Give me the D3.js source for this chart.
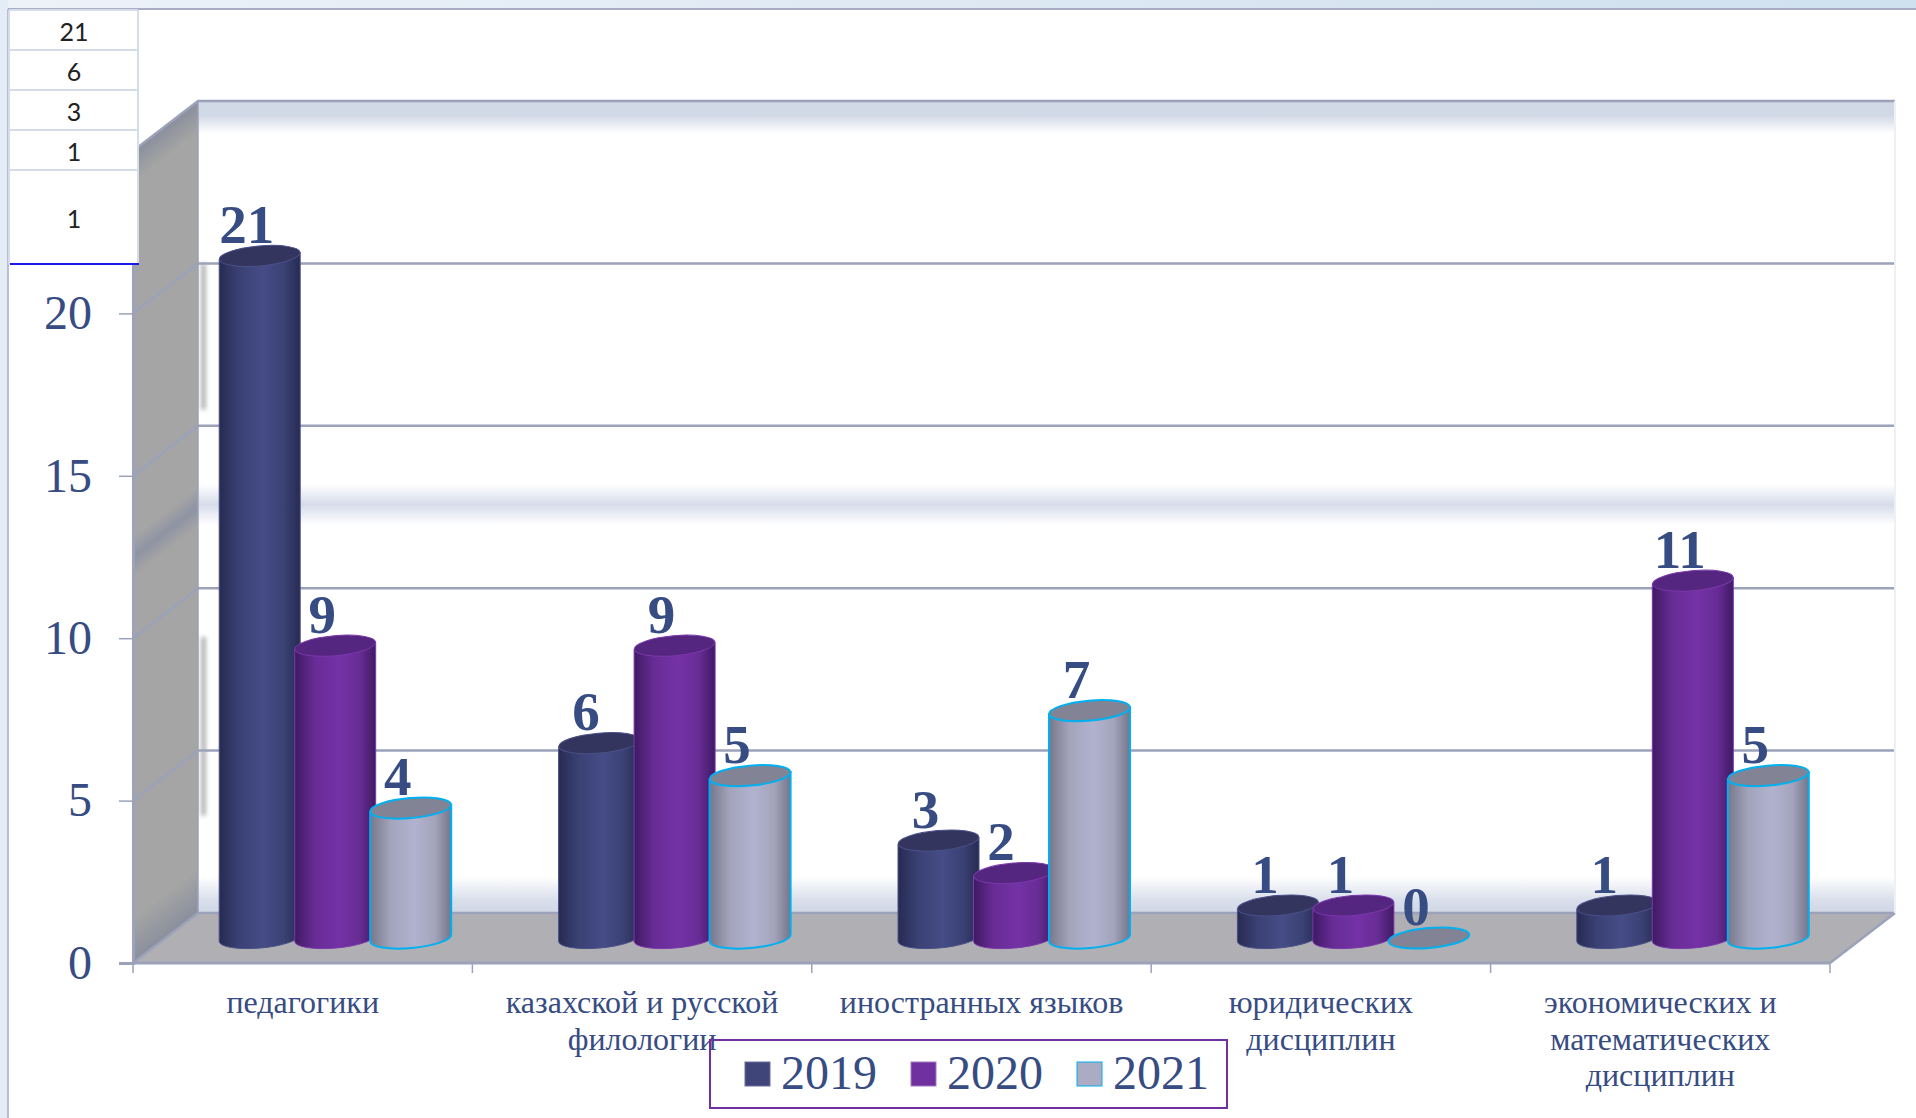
<!DOCTYPE html>
<html>
<head>
<meta charset="utf-8">
<script src="https://d3js.org/d3.v7.min.js"></script>
<style>
  html, body { margin: 0; padding: 0; background: #fff; overflow: hidden; }
  svg { display: block; }
  text { font-family: "Liberation Serif", serif; fill: #364c82; }
</style>
</head>
<body>
<div id="chart"></div>
<script>
const categories = [
  ['педагогики'],
  ['казахской и русской', 'филологии'],
  ['иностранных языков'],
  ['юридических', 'дисциплин'],
  ['экономических и', 'математических', 'дисциплин']
]
const years = ['2019', '2020', '2021']
const values2019 = [21, 6, 3, 1, 1]
const values2020 = [9, 9, 2, 1, 11]
const values2021 = [4, 5, 7, 0, 5]
const yTicks = [0, 5, 10, 15, 20, 25]
const tableValues = [21, 6, 3, 1, 1]

const width = 1916
const height = 1118
const depthX = 65
const depthY = 50
const barW = 81
const capRy = 10
const tilt = 3.5

const x = d3.scaleBand().domain(d3.range(categories.length)).range([133, 1830])
const xYear = d3.scalePoint().domain(years).range([-75.5, 75.5])
const y = d3.scaleLinear().domain([0, 25]).range([963, 151])

const seriesValues = [values2019, values2020, values2021]
const look = [
  { id: 'navy', stops: ['#272b52', '#3a4174', '#464c86', '#3a4174', '#272b52'], cap: '#33355f', line: '#4b5088', lineW: 1 },
  { id: 'purple', stops: ['#3f1a63', '#682c96', '#7432a6', '#682c96', '#3f1a63'], cap: '#55267f', line: '#7a38aa', lineW: 1 },
  { id: 'grey', stops: ['#76778a', '#a3a4bb', '#b1b2cf', '#a3a4bb', '#74758a'], cap: '#828394', line: '#00b0f0', lineW: 2 }
]
const lineColor = '#9ba2b9'

const svg = d3.select('#chart').append('svg').attr('width', width).attr('height', height)
const defs = svg.append('defs')

look.forEach(l => {
  const g = defs.append('linearGradient').attr('id', 'bar-' + l.id)
  ;[0, 0.25, 0.55, 0.8, 1].forEach((o, i) => {
    g.append('stop').attr('offset', o).attr('stop-color', l.stops[i])
  })
})

function vGradient(id, stops) {
  const g = defs.append('linearGradient').attr('id', id).attr('x1', 0).attr('x2', 0).attr('y1', 0).attr('y2', 1)
  stops.forEach(s => g.append('stop').attr('offset', s[0]).attr('stop-color', s[1]))
}
// back wall bands at top, middle and bottom
vGradient('wall-back', [
  [0, '#d0d7e5'], [0.018, '#d2d9e6'], [0.04, '#ffffff'],
  [0.472, '#ffffff'], [0.497, '#d6dcea'], [0.522, '#ffffff'],
  [0.955, '#ffffff'], [0.985, '#d8deea'], [1, '#d0d7e5']
])
vGradient('wall-side', [
  [0, '#8a8f9c'], [0.04, '#a5a5a5'],
  [0.475, '#a5a5a5'], [0.5, '#8f94a3'], [0.525, '#a5a5a5'],
  [0.945, '#a5a5a5'], [1, '#8a8f9c']
])
defs.append('filter').attr('id', 'soft').attr('x', '-100%').attr('width', '300%')
  .append('feGaussianBlur').attr('stdDeviation', 2)

// window frame
const strip = defs.append('linearGradient').attr('id', 'strip')
strip.append('stop').attr('offset', 0).attr('stop-color', '#edf2f9')
strip.append('stop').attr('offset', 1).attr('stop-color', '#cfe0ee')
svg.append('rect').attr('width', width).attr('height', 9).attr('fill', 'url(#strip)')
svg.append('rect').attr('width', 8).attr('height', height).attr('fill', '#e4edf6')
svg.append('line').attr('x1', 8).attr('x2', width).attr('y1', 9).attr('y2', 9)
  .attr('stroke', '#a9adc4').attr('stroke-width', 2)
svg.append('line').attr('x1', 8).attr('x2', 8).attr('y1', 9).attr('y2', height)
  .attr('stroke', '#a5adc8').attr('stroke-width', 1.5)

// plot box
const [xL, xR] = x.range()
const y0 = y(0)
const yTop = y(25)
const backH = y0 - yTop

svg.append('rect')
  .attr('x', xL + depthX).attr('y', yTop - depthY)
  .attr('width', xR - xL).attr('height', backH)
  .attr('fill', 'url(#wall-back)')

// blurred streaks along the left edge of the back wall
;[[20, 15.5], [8.5, 3]].forEach(([a, b]) => {
  svg.append('rect')
    .attr('x', xL + depthX + 3).attr('y', y(a) - depthY)
    .attr('width', 5).attr('height', y(b) - y(a))
    .attr('fill', '#777').attr('opacity', 0.55)
    .attr('filter', 'url(#soft)')
})

svg.append('rect')
  .attr('width', depthX).attr('height', backH)
  .attr('transform', `translate(${xL},${yTop}) skewY(${Math.atan2(-depthY, depthX) * 180 / Math.PI})`)
  .attr('fill', 'url(#wall-side)')

svg.append('path')
  .attr('d', d3.line()([[xL, y0], [xL + depthX, y0 - depthY], [xR + depthX, y0 - depthY], [xR, y0]]) + 'Z')
  .attr('fill', '#b0afb3')

// wall edges and gridlines
const grid = svg.append('g').attr('fill', 'none').attr('stroke', lineColor).attr('stroke-width', 2.5)
grid.selectAll('path.g')
  .data(yTicks)
  .join('path')
  .attr('class', 'g')
  .attr('d', v => d3.line()([[xL, y(v)], [xL + depthX, y(v) - depthY], [xR + depthX, y(v) - depthY]]))
grid.append('line')
  .attr('x1', xL + depthX).attr('x2', xL + depthX)
  .attr('y1', yTop - depthY).attr('y2', y0 - depthY).attr('stroke-width', 1.5)
grid.append('line')
  .attr('x1', xR).attr('y1', y0).attr('x2', xR + depthX).attr('y2', y0 - depthY)
svg.append('line')
  .attr('x1', xR + depthX).attr('x2', xR + depthX)
  .attr('y1', yTop - depthY).attr('y2', y0 - depthY)
  .attr('stroke', '#eef0f6').attr('stroke-width', 2)

// axes, the 25 label sits under the table in the original so it stays empty
const yAxis = svg.append('g')
  .attr('transform', `translate(${xL},0)`)
  .call(d3.axisLeft(y).tickValues(yTicks).tickSize(14).tickPadding(27).tickFormat(v => v === 25 ? '' : v))
yAxis.select('.domain').attr('stroke', lineColor).attr('stroke-width', 3)
yAxis.selectAll('.tick line').attr('stroke', lineColor).attr('stroke-width', 1.5)
yAxis.selectAll('.tick text')
  .style('font-family', '"Liberation Serif", serif')
  .style('font-size', '48px')
  .attr('fill', '#364c82')

svg.append('line').attr('x1', xL).attr('x2', xR).attr('y1', y0).attr('y2', y0)
  .attr('stroke', lineColor).attr('stroke-width', 3)
svg.append('g').selectAll('line')
  .data(d3.range(categories.length + 1))
  .join('line')
  .attr('x1', i => xL + i * x.step()).attr('x2', i => xL + i * x.step())
  .attr('y1', y0).attr('y2', y0 + 10)
  .attr('stroke', lineColor).attr('stroke-width', 1.5)

// category labels
const catLabels = svg.append('g').selectAll('text')
  .data(categories)
  .join('text')
  .attr('text-anchor', 'middle')
  .attr('font-size', 32)
catLabels.selectAll('tspan')
  .data((d, i) => d.map(t => ({ t, i })))
  .join('tspan')
  .attr('x', d => x(d.i) + x.bandwidth() / 2)
  .attr('y', (d, j) => 1013 + j * 36.7)
  .text(d => d.t)

// cylinders, centred half way through the floor depth
function barPath(cx, top, base) {
  const r = barW / 2
  return `M${cx - r},${top + tilt}L${cx - r},${base + tilt}` +
    `A${r},${capRy} -5 0 0 ${cx + r},${base - tilt}` +
    `L${cx + r},${top - tilt}Z`
}

categories.forEach((c, i) => {
  const g = svg.append('g')
  years.forEach((yr, s) => {
    const v = seriesValues[s][i]
    const l = look[s]
    const cx = x(i) + x.bandwidth() / 2 + depthX / 2 + xYear(yr)
    const base = y(0) - depthY / 2
    const top = y(v) - depthY / 2
    if (v > 0) {
      g.append('path')
        .attr('d', barPath(cx, top, base))
        .attr('fill', `url(#bar-${l.id})`)
        .attr('stroke', l.line).attr('stroke-width', l.lineW)
    }
    g.append('ellipse')
      .attr('cx', cx).attr('cy', top)
      .attr('rx', barW / 2).attr('ry', capRy)
      .attr('transform', `rotate(-5 ${cx} ${top})`)
      .attr('fill', l.cap)
      .attr('stroke', l.line).attr('stroke-width', l.lineW)
  })
})

// value labels go on top of all the bars
categories.forEach((c, i) => {
  years.forEach((yr, s) => {
    const v = seriesValues[s][i]
    svg.append('text')
      .attr('x', x(i) + x.bandwidth() / 2 + depthX / 2 + xYear(yr) - 13)
      .attr('y', y(v) - depthY / 2 - 13)
      .attr('text-anchor', 'middle')
      .attr('font-size', 55)
      .attr('font-weight', 'bold')
      .text(v)
  })
})

// legend
svg.append('rect')
  .attr('x', 710).attr('y', 1040).attr('width', 517).attr('height', 68)
  .attr('fill', 'none').attr('stroke', '#7030a0').attr('stroke-width', 2)
const legendX = d3.scalePoint().domain(years).range([745, 1077])
const legend = svg.append('g').selectAll('g')
  .data(years)
  .join('g')
  .attr('transform', d => `translate(${legendX(d)},1062)`)
legend.append('rect')
  .attr('width', 25).attr('height', 24)
  .attr('fill', (d, i) => ['#3f4579', '#7030a0', '#abacc4'][i])
  .attr('stroke', (d, i) => ['#6a6fa0', '#a27bc4', '#00b0f0'][i])
  .attr('stroke-width', 1)
legend.append('text')
  .attr('x', 36).attr('y', 27)
  .attr('font-size', 48)
  .text(d => d)

// spreadsheet fragment over the top left corner
const rowEdges = [10, 50, 90, 130, 170, 264]
const table = svg.append('g')
table.append('rect').attr('x', 9).attr('y', 10).attr('width', 129).attr('height', 254).attr('fill', '#fff')
table.selectAll('line.r')
  .data(rowEdges.slice(0, -1))
  .join('line')
  .attr('class', 'r')
  .attr('x1', 9).attr('x2', 138).attr('y1', d => d).attr('y2', d => d)
  .attr('stroke', '#d5dcea').attr('stroke-width', 2)
table.append('line').attr('x1', 9).attr('x2', 9).attr('y1', 10).attr('y2', 264)
  .attr('stroke', '#d5dcea').attr('stroke-width', 2)
table.append('line').attr('x1', 138).attr('x2', 138).attr('y1', 10).attr('y2', 264)
  .attr('stroke', '#d5dcea').attr('stroke-width', 2)
table.append('line').attr('x1', 10).attr('x2', 139).attr('y1', 264).attr('y2', 264)
  .attr('stroke', '#1a1ae6').attr('stroke-width', 2)
table.selectAll('text')
  .data(tableValues)
  .join('text')
  .attr('x', 74)
  .attr('y', (d, i) => (rowEdges[i] + rowEdges[i + 1]) / 2 + 10.5)
  .attr('text-anchor', 'middle')
  .style('font-family', 'Lato, sans-serif')
  .style('fill', '#222')
  .attr('font-size', 25)
  .text(d => d)
</script>
</body>
</html>
